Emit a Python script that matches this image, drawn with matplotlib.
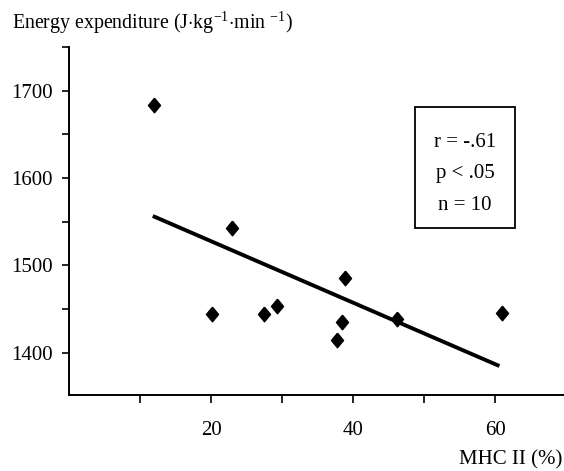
import matplotlib.pyplot as plt
from matplotlib.ticker import MultipleLocator, FixedLocator

# MHC II (%) vs energy expenditure
mhc = [12.0, 20.2, 22.9, 27.5, 29.3, 37.8, 38.4, 38.9, 46.2, 60.9]
energy = [1684, 1444, 1543, 1444, 1453, 1414, 1435, 1486, 1438, 1445]

# regression line end points
fit_x = [11.8, 60.6]
fit_y = [1556.5, 1384.7]

stats_lines = ["r = -.61", "p < .05", "n = 10"]
x_ticks = [10, 20, 30, 40, 50, 60]
x_labels = ["", "20", "", "40", "", "60"]

plt.rcParams['font.family'] = ['Liberation Serif', 'DejaVu Serif']
plt.rcParams['mathtext.fontset'] = 'custom'
plt.rcParams['mathtext.rm'] = 'Liberation Serif'

fig = plt.figure(figsize=(5.64, 4.71), dpi=100)
ax = fig.add_axes([69 / 564, 76 / 471, 1 - 69 / 564, 348 / 471])

diamond = [(0, 1), (0.83, 0), (0, -1), (-0.83, 0), (0, 1)]
ax.plot(fit_x, fit_y, color='black', lw=2.8, solid_capstyle='butt')
ax.plot(mhc, energy, linestyle='none', marker=diamond, markersize=10.5,
        color='black')

ax.set_xlim(0, 69.7)
ax.set_ylim(1351.5, 1750)
ax.xaxis.set_major_locator(FixedLocator(x_ticks))
ax.set_xticklabels(x_labels)
ax.yaxis.set_major_locator(MultipleLocator(100))
ax.yaxis.set_minor_locator(MultipleLocator(50))

for s in ['top', 'right']:
    ax.spines[s].set_visible(False)
for s in ['left', 'bottom']:
    ax.spines[s].set_linewidth(1.4)

ax.tick_params(axis='x', which='major', length=5.5, width=1.2, pad=13,
               labelsize=15)
ax.tick_params(axis='y', which='both', length=5, width=1.2, pad=7,
               labelsize=15)

fig.text(12 / 564, 1 - 23 / 471,
         r'Energy expenditure (J$\cdot$kg$^{\mathregular{-1}}$$\cdot$min $^{\mathregular{-1}}$)',
         fontsize=14.3, va='center', ha='left')
fig.text(562 / 564, 1 - 460 / 471, 'MHC II (%)', fontsize=15,
         va='center', ha='right')

# stats box
box = plt.Rectangle((415 / 564, 1 - 228 / 471), 100 / 564, 121 / 471,
                    transform=fig.transFigure, fill=False, lw=1.3,
                    color='black')
fig.add_artist(box)
for i, line in enumerate(stats_lines):
    fig.text(465 / 564, 1 - (143 + 31 * i) / 471, line, fontsize=15,
             ha='center', va='center')

fig.savefig('out.png', dpi=100)
